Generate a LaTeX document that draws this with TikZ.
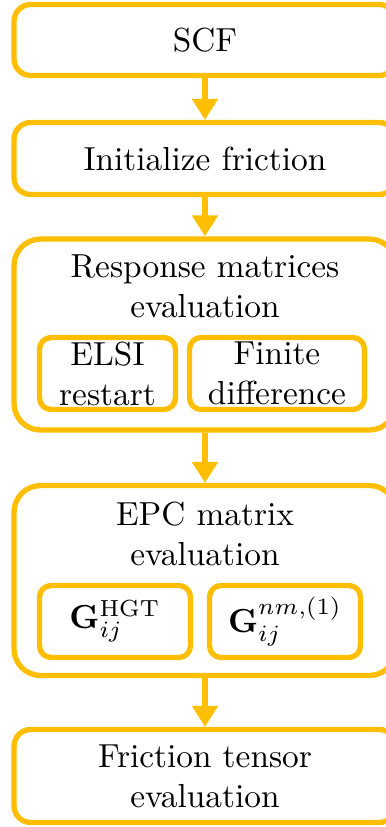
\documentclass[tikz,border=0pt]{standalone}
\usetikzlibrary{arrows.meta}
\definecolor{amber}{RGB}{255,191,0}
\tikzset{
  stepbox/.style={draw=amber, line width=1.6pt, rounded corners=5pt, minimum width=114.6pt, align=center, inner sep=0pt},
  groupbox/.style={stepbox, rounded corners=8pt},
  subbox/.style={draw=amber, line width=1.6pt, rounded corners=3.5pt, minimum height=21.6pt, align=center, inner sep=0pt},
  flow/.style={draw=amber, line width=1.6pt, -{Triangle[width=7.5pt,length=6.3pt]}},
}

\begin{document}
\begin{tikzpicture}[x=0.3pt, y=-0.3pt]
	%%%%% START %%%%%
	\useasboundingbox (0,0) rectangle (386,827);
	
	\node[stepbox, minimum height=21.3pt] (scf) at (205,40) {SCF};
	\node[stepbox, minimum height=21.6pt] (init) at (205,158.5) {Initialize friction};
	
	\node[groupbox, minimum height=57.3pt] (resp) at (205,334.5) {};
	\node[align=center, inner sep=0pt] (resptitle) at (205,286.5) {Response matrices\\evaluation};
	\node[subbox, minimum width=40.8pt] (elsi) at (107.5,373.5) {ELSI\\restart};
	\node[subbox, minimum width=52.5pt] (fd) at (277,373.5) {Finite\\difference};
	
	\node[groupbox, minimum height=57pt] (epc) at (205,580.5) {};
	\node[align=center, inner sep=0pt] (epctitle) at (205,533.5) {EPC matrix\\evaluation};
	\node[subbox, minimum width=45.3pt] (hgt) at (115,621.5) {$\mathbf{G}_{ij}^{\mathrm{HGT}}$};
	\node[subbox, minimum width=45.3pt] (nm) at (285,621.5) {$\mathbf{G}_{ij}^{nm,(1)}$};
	
	\node[stepbox, minimum height=27.9pt] (fric) at (205,776) {Friction tensor\\evaluation};
	
	\draw[flow] (scf) -- (init);
	\draw[flow] (init) -- (resp);
	\draw[flow] (resp) -- (epc);
	\draw[flow] (epc) -- (fric);
	%%%%% END %%%%%
\end{tikzpicture}
\end{document}
